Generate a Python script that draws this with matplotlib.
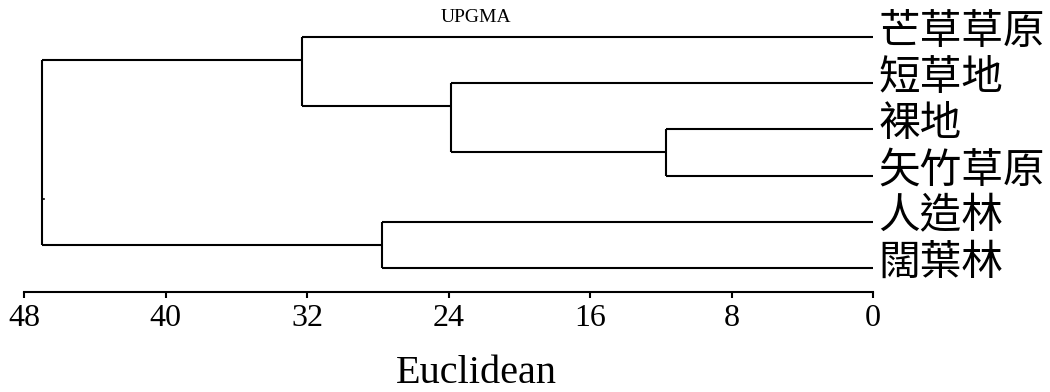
import matplotlib
matplotlib.use("Agg")
import matplotlib.pyplot as plt

plt.rcParams['font.family'] = ['Liberation Serif', 'Noto Sans CJK TC', 'DejaVu Serif']

# leaves, top to bottom
labels = ['芒草草原', '短草地', '裸地', '矢竹草原', '人造林', '闊葉林']
# merges: (top child, bottom child); ints = leaf index, 'n#' = earlier merge
merge_a = [2, 3]
merge_b = [1, 'n0']
merge_c = [0, 'n1']
merge_d = [4, 5]
merge_e = ['n2', 'n3']
heights = [11.7, 23.85, 32.3, 27.75, 47.0]
merges = [merge_a, merge_b, merge_c, merge_d, merge_e]
xticks = [48, 40, 32, 24, 16, 8, 0]

fig = plt.figure(figsize=(10.5, 3.92), dpi=100)
ax = fig.add_axes([24 / 1050, 1 - 292 / 392, (873 - 24) / 1050, (292 - 10) / 392])

pos = {}     # node -> (x, y)
leaves = {}  # node -> leaf indices
for i in range(len(labels)):
    pos[i] = (0.0, i)
    leaves[i] = [i]

lw = 1.5
for k, (m, h) in enumerate(zip(merges, heights)):
    (x1, y1), (x2, y2) = pos[m[0]], pos[m[1]]
    ax.plot([x1, h], [y1, y1], color='black', lw=lw, solid_capstyle='butt')
    ax.plot([x2, h], [y2, y2], color='black', lw=lw, solid_capstyle='butt')
    ax.plot([h, h], [y1, y2], color='black', lw=lw, solid_capstyle='butt')
    lv = leaves[m[0]] + leaves[m[1]]
    leaves['n%d' % k] = lv
    # the software hangs a cluster at the middle of its first two leaves
    pos['n%d' % k] = (h, (lv[0] + lv[1]) / 2)

# little stub on the root
root_h = heights[-1]
ax.plot([root_h, root_h - 0.15], [3.5, 3.5], color='black', lw=1.2)

for i, lab in enumerate(labels):
    ax.text(-0.3, i - 0.1, lab, fontsize=30, va='center', ha='left',
            family=['Noto Sans CJK TC'], clip_on=False)

ax.set_xlim(48, 0)
ax.set_ylim(5.52, -0.584)
ax.set_xticks(xticks)
ax.set_xticklabels([str(t) for t in xticks], fontsize=23)
ax.set_yticks([])
for s in ['top', 'right', 'left']:
    ax.spines[s].set_visible(False)
ax.spines['bottom'].set_linewidth(1.5)
ax.tick_params(axis='x', length=4, width=1.5, pad=5)

fig.text(476 / 1050, 1 - 17 / 392, 'UPGMA', fontsize=14, ha='center', va='center')
fig.text(476 / 1050, 1 - 383 / 392, 'Euclidean', fontsize=29, ha='center', va='baseline')

fig.savefig('out.png', dpi=100)
